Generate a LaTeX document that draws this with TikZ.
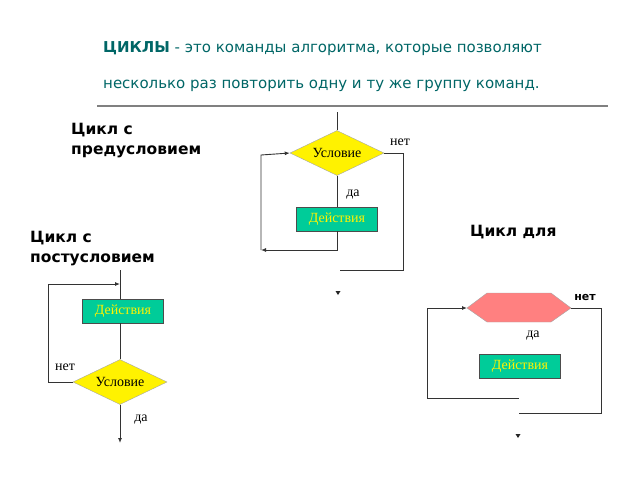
\documentclass[tikz,border=0pt]{standalone}
\usepackage{fontspec}
\setmainfont{Liberation Serif}
\setsansfont{DejaVu Sans}
\usetikzlibrary{positioning,arrows.meta,shapes.geometric}
\definecolor{teal1}{RGB}{0,102,102}
\definecolor{act}{RGB}{0,204,153}
\definecolor{pink1}{RGB}{255,128,128}
\tikzset{
	cond/.style={diamond, draw=gray!70, fill=yellow, minimum width=94pt, minimum height=45pt, inner sep=0pt},
	act/.style={draw=gray!60!black, fill=act, minimum width=81pt, minimum height=24pt, inner sep=0pt, text=yellow, font=\fontsize{14}{14}\selectfont},
	line/.style={draw=gray!40!black, line width=0.9pt},
	tip/.style={-{Latex[length=5pt,width=4pt]}},
	capt/.style={font=\sffamily\bfseries\fontsize{15.5}{20}\selectfont, align=left, anchor=north west, inner sep=0pt},
	lbl/.style={font=\fontsize{14}{14}\selectfont}
}
\begin{document}
\begin{tikzpicture}[x=1pt,y=-1pt]
	\useasboundingbox (0,0) rectangle (640,480);
	
	% title
	\node[anchor=west, inner sep=0pt, text=teal1, font=\sffamily\fontsize{15}{18}\selectfont] (T1) at (103,49) {\textbf{ЦИКЛЫ} - это команды алгоритма, которые позволяют};
	\node[anchor=west, inner sep=0pt, text=teal1, font=\sffamily\fontsize{15}{18}\selectfont] (T2) at (103,86) {несколько раз повторить одну и ту же группу команд.};
	\coordinate (R1) at (97,106);
	\coordinate (R2) at (608,106);
	\draw[gray, line width=1.3pt] (R1) -- (R2);
	
	% captions
	\node[capt] (C1) at (71,123) {Цикл с\\предусловием};
	\node[capt] (C2) at (30,231) {Цикл с\\постусловием};
	\node[capt] (C3) at (470,225) {Цикл для};
	
	%%%%%%%%%%%%%%%%%%%%%%%%%%%%%%%%%%%%%%%%%%%%%%%%%%%%%%%%%%%%%%
	% loop with precondition
	\node[cond] (D1) at (337,153) {};
	\node[lbl] at (D1) {Условие};
	\node[act] (A1) at (337,219) {Действия};
	\coordinate (P1) at (337,112);
	\coordinate (P2) at (337,250);
	\coordinate (P3) at (261,250);
	\coordinate (P4) at (261,155);
	\coordinate (P5) at (403,153);
	\coordinate (P6) at (403,270);
	\coordinate (P7) at (340,270);
	\draw[line] (P1) -- (D1.north);
	\draw[line] (D1.south) -- (A1.north);
	\draw[line, tip] (A1.south) -- (P2) -- (P3);
	\draw[line, tip] (P3) -- (P4) -- (D1.west);
	\draw[line] (D1.east) -- (P5) -- (P6) -- (P7);
	\fill[gray!30!black] (335.5,291) -- (340.5,291) -- (338,295) -- cycle;
	\node[lbl] (Y1) at (353,195) {да};
	\node[lbl] (N1) at (400,142) {нет};
	
	% loop with postcondition
	\node[act] (A2) at (123,311) {Действия};
	\node[cond] (D2) at (120,382) {};
	\node[lbl] at (D2) {Условие};
	\coordinate (Q1) at (120,270);
	\coordinate (Q2) at (48,382);
	\coordinate (Q3) at (48,284);
	\coordinate (Q4) at (120,284);
	\coordinate (Q5) at (120,443);
	\draw[line] (Q1) -- (A2.north -| Q1);
	\draw[line] (A2.south -| Q1) -- (D2.north);
	\draw[line, tip] (D2.west) -- (Q2) -- (Q3) -- (Q4);
	\draw[line, tip] (D2.south) -- (Q5);
	\node[lbl] (N2) at (65,367) {нет};
	\node[lbl] (Y2) at (141,420) {да};
	
	% loop for
	\coordinate (H1) at (467,308);
	\coordinate (H2) at (571,308);
	\fill[pink1] (H1) -- (487,293) -- (551,293) -- (H2) -- (551,322) -- (487,322) -- cycle;
	\draw[gray!70] (H1) -- (487,293) -- (551,293) -- (H2) -- (551,322) -- (487,322) -- cycle;
	\node[act] (A3) at (520,366) {Действия};
	\coordinate (S1) at (427,308);
	\coordinate (S2) at (427,398);
	\coordinate (S3) at (519,398);
	\coordinate (S4) at (601,308);
	\coordinate (S5) at (601,413);
	\coordinate (S6) at (519,413);
	\draw[line, tip] (S3) -- (S2) -- (S1) -- (H1);
	\draw[line] (H2) -- (S4) -- (S5) -- (S6);
	\fill[gray!30!black] (515.5,434) -- (520.5,434) -- (518,438) -- cycle;
	\node[font=\sffamily\bfseries\fontsize{11}{12}\selectfont] (N3) at (585,297) {нет};
	\node[lbl] (Y3) at (533,336) {да};
\end{tikzpicture}
\end{document}
